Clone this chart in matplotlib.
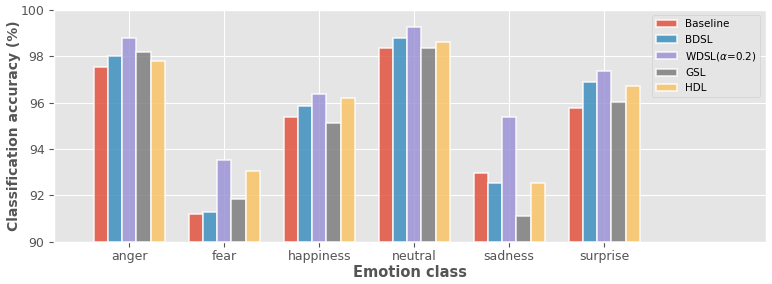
import matplotlib
matplotlib.use("Agg")
import matplotlib.pyplot as plt
import numpy as np

plt.style.use("ggplot")

categories = ["anger", "fear", "happiness", "neutral", "sadness", "surprise"]
series_names = ["Baseline", "BDSL", r"WDSL($\alpha$=0.2)", "GSL", "HDL"]
baseline = [97.53, 91.20, 95.37, 98.36, 92.95, 95.78]
bdsl = [98.01, 91.27, 95.87, 98.78, 92.53, 96.88]
wdsl = [98.78, 93.53, 96.36, 99.28, 95.37, 97.38]
gsl = [98.19, 91.86, 95.11, 98.37, 91.11, 96.03]
hdl = [97.79, 93.04, 96.20, 98.62, 92.53, 96.72]
series = [baseline, bdsl, wdsl, gsl, hdl]
colors = ["#E24A33", "#348ABD", "#988ED5", "#777777", "#FBC15E"]

fig = plt.figure(figsize=(7.72, 2.84), dpi=100)
ax = fig.add_axes([0.0703, 0.149, 0.9215, 0.8158])

x = np.arange(len(categories))
w = 0.15
for i, (vals, name, c) in enumerate(zip(series, series_names, colors)):
    ax.bar(x + (i - 2) * w, np.array(vals) - 90, w, bottom=90, color=c, alpha=0.8,
           edgecolor="white", linewidth=1.2, label=name)

ax.set_ylim(90, 100)
ax.set_xlim(-0.79, 6.7)
ax.set_xticks(x)
ax.set_xticklabels(categories, fontsize=9, color="#555555")
ax.tick_params(axis="x", pad=2.5)
ax.set_yticks([90, 92, 94, 96, 98, 100])
ax.tick_params(axis="y", labelsize=9, labelcolor="#555555")
ax.set_xlabel("Emotion class", fontsize=10.5, fontweight="bold", color="#555555", labelpad=1.5)
ax.set_ylabel("Classification accuracy (%)", fontsize=10, fontweight="bold", color="#555555", labelpad=0)
leg = ax.legend(loc="upper right", fontsize=7.5, frameon=True)

fig.savefig("out.png", dpi=100)
